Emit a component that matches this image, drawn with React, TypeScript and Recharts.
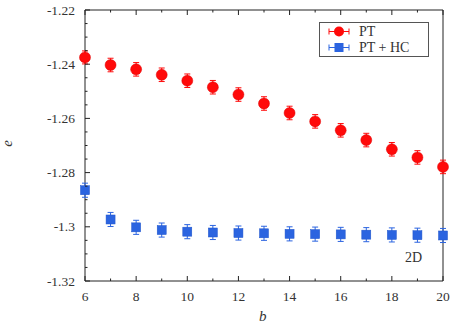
import React from 'react';
import { ComposedChart, Line, XAxis, YAxis, ErrorBar, ReferenceArea } from 'recharts';

// b values
const bValues = [6, 7, 8, 9, 10, 11, 12, 13, 14, 15, 16, 17, 18, 19, 20];
// PT energies
const ptValues = [-1.2375, -1.2403, -1.2419, -1.2439, -1.2461, -1.2485, -1.2512, -1.2545, -1.258, -1.2611, -1.2644, -1.268, -1.2714, -1.2744, -1.2779];
const ptErrors = [0.0024, 0.0025, 0.0025, 0.0025, 0.0025, 0.0025, 0.0025, 0.0025, 0.0025, 0.0025, 0.0025, 0.0025, 0.0025, 0.0025, 0.0025];
// PT + HC energies
const hcValues = [-1.2865, -1.2973, -1.3002, -1.3012, -1.3018, -1.3021, -1.3023, -1.3024, -1.3026, -1.3027, -1.3028, -1.3029, -1.303, -1.3031, -1.3032];
const hcErrors = [0.0026, 0.0026, 0.0026, 0.0026, 0.0026, 0.0026, 0.0026, 0.0026, 0.0026, 0.0026, 0.0026, 0.0026, 0.0026, 0.0026, 0.0026];

const xTicks = [6, 7, 8, 9, 10, 11, 12, 13, 14, 15, 16, 17, 18, 19, 20];
const xMajor = [6, 8, 10, 12, 14, 16, 18, 20];
const yTicks = [-1.32, -1.315, -1.31, -1.305, -1.3, -1.295, -1.29, -1.285, -1.28, -1.275, -1.27, -1.265, -1.26, -1.255, -1.25, -1.245, -1.24, -1.235, -1.23, -1.225, -1.22];
const yMajor = [-1.32, -1.3, -1.28, -1.26, -1.24, -1.22];
const yMajorLabels = ['-1.32', '-1.3', '-1.28', '-1.26', '-1.24', '-1.22'];
const seriesNames = ['PT', 'PT + HC'];

const data = bValues.map((b, i) => ({
  b,
  pt: ptValues[i],
  ptErr: ptErrors[i],
  hc: hcValues[i],
  hcErr: hcErrors[i],
}));

const RED = '#ff0a0a';
const BLUE = '#2b64e0';
const AXIS = '#222222';
const FONT = "'Liberation Serif', serif";
const MAJOR = 5;
const MINOR = 2.5;

const majorIndex = (list: number[], v: number) => list.findIndex((m) => Math.abs(m - v) < 1e-6);

const BottomTick = (props: any) => {
  const { x, y, payload } = props;
  const isMajor = majorIndex(xMajor, payload.value) >= 0;
  return (
    <g>
      <line x1={x} y1={y} x2={x} y2={y - (isMajor ? MAJOR : MINOR)} stroke={AXIS} strokeWidth={1} />
      {isMajor && (
        <text x={x} y={y + 20} textAnchor="middle" fontFamily={FONT} fontSize={13.5} fill="#333">
          {payload.value}
        </text>
      )}
    </g>
  );
};

const TopTick = (props: any) => {
  const { x, y, payload } = props;
  const isMajor = majorIndex(xMajor, payload.value) >= 0;
  return <line x1={x} y1={y} x2={x} y2={y + (isMajor ? MAJOR : MINOR)} stroke={AXIS} strokeWidth={1} />;
};

const LeftTick = (props: any) => {
  const { x, y, payload } = props;
  const idx = majorIndex(yMajor, payload.value);
  const isMajor = idx >= 0;
  return (
    <g>
      <line x1={x} y1={y} x2={x + (isMajor ? MAJOR : MINOR)} y2={y} stroke={AXIS} strokeWidth={1} />
      {isMajor && (
        <text x={x - 10} y={y + 4.5} textAnchor="end" fontFamily={FONT} fontSize={13.5} fill="#333">
          {yMajorLabels[idx]}
        </text>
      )}
    </g>
  );
};

const RightTick = (props: any) => {
  const { x, y, payload } = props;
  const isMajor = majorIndex(yMajor, payload.value) >= 0;
  return <line x1={x} y1={y} x2={x - (isMajor ? MAJOR : MINOR)} y2={y} stroke={AXIS} strokeWidth={1} />;
};

const CircleDot = (props: any) => {
  const { cx, cy } = props;
  if (cx == null || cy == null) return null;
  return <circle cx={cx} cy={cy} r={5.5} fill={RED} stroke="#e00000" strokeWidth={0.5} />;
};

const SquareDot = (props: any) => {
  const { cx, cy } = props;
  if (cx == null || cy == null) return null;
  return <rect x={cx - 4.5} y={cy - 4.5} width={9} height={9} fill={BLUE} stroke="#1f55cc" strokeWidth={0.5} />;
};

const LegendBox = () => (
  <svg width={110} height={35} style={{ display: 'block' }}>
    <rect x={0.5} y={0.5} width={109} height={34} fill="#fff" stroke="#555" strokeWidth={1} />
    <g stroke={RED} strokeWidth={1}>
      <line x1={10} y1={9.5} x2={30} y2={9.5} />
      <line x1={10} y1={6.5} x2={10} y2={12.5} />
      <line x1={30} y1={6.5} x2={30} y2={12.5} />
    </g>
    <circle cx={20} cy={9.5} r={5} fill={RED} />
    <text x={40} y={14} fontFamily={FONT} fontSize={14} fill="#333">{seriesNames[0]}</text>
    <g stroke={BLUE} strokeWidth={1}>
      <line x1={10} y1={25.5} x2={30} y2={25.5} />
      <line x1={10} y1={22.5} x2={10} y2={28.5} />
      <line x1={30} y1={22.5} x2={30} y2={28.5} />
    </g>
    <rect x={15.5} y={21} width={9} height={9} fill={BLUE} />
    <text x={40} y={30} fontFamily={FONT} fontSize={14} fill="#333">{seriesNames[1]}</text>
  </svg>
);

export default function App() {
  return (
    <div style={{ position: 'absolute', left: 0, top: 0 }}>
      <ComposedChart width={454} height={327} data={data} margin={{ top: 9, right: 10, bottom: 0, left: 0 }}>
        <XAxis
          dataKey="b"
          type="number"
          domain={[6, 20]}
          ticks={xTicks}
          interval={0}
          height={46}
          tickSize={0}
          tickMargin={0}
          axisLine={false}
          stroke={AXIS}
          tick={BottomTick}
        />
        <XAxis
          xAxisId="top"
          orientation="top"
          dataKey="b"
          type="number"
          domain={[6, 20]}
          ticks={xTicks}
          interval={0}
          height={1}
          tickSize={0}
          tickMargin={0}
          axisLine={false}
          stroke={AXIS}
          tick={TopTick}
        />
        <YAxis
          type="number"
          domain={[-1.32, -1.22]}
          ticks={yTicks}
          interval={0}
          width={85}
          tickSize={0}
          tickMargin={0}
          axisLine={false}
          stroke={AXIS}
          tick={LeftTick}
        />
        <YAxis
          yAxisId="right"
          orientation="right"
          type="number"
          domain={[-1.32, -1.22]}
          ticks={yTicks}
          interval={0}
          width={1}
          tickSize={0}
          tickMargin={0}
          axisLine={false}
          stroke={AXIS}
          tick={RightTick}
        />
        {/* plot frame */}
        <ReferenceArea x1={6} x2={20} y1={-1.32} y2={-1.22} fill="none" fillOpacity={0} stroke={AXIS} strokeWidth={1} />
        <Line dataKey="hc" stroke="none" isAnimationActive={false} dot={SquareDot} activeDot={false}>
          <ErrorBar dataKey="hcErr" direction="y" width={3} stroke={BLUE} strokeWidth={1} />
        </Line>
        <Line dataKey="pt" stroke="none" isAnimationActive={false} dot={CircleDot} activeDot={false}>
          <ErrorBar dataKey="ptErr" direction="y" width={3} stroke={RED} strokeWidth={1} />
        </Line>
      </ComposedChart>
      <div style={{ position: 'absolute', left: 319, top: 22 }}>
        <LegendBox />
      </div>
      <div style={{ position: 'absolute', left: 405, top: 250, fontFamily: FONT, fontSize: 14, color: '#333' }}>2D</div>
      <div style={{ position: 'absolute', left: 259, top: 308, fontFamily: FONT, fontSize: 15, fontStyle: 'italic', color: '#333' }}>b</div>
      <div
        style={{
          position: 'absolute',
          left: 4,
          top: 135,
          fontFamily: FONT,
          fontSize: 15,
          fontStyle: 'italic',
          color: '#333',
          transform: 'rotate(-90deg)',
        }}
      >
        e
      </div>
    </div>
  );
}
